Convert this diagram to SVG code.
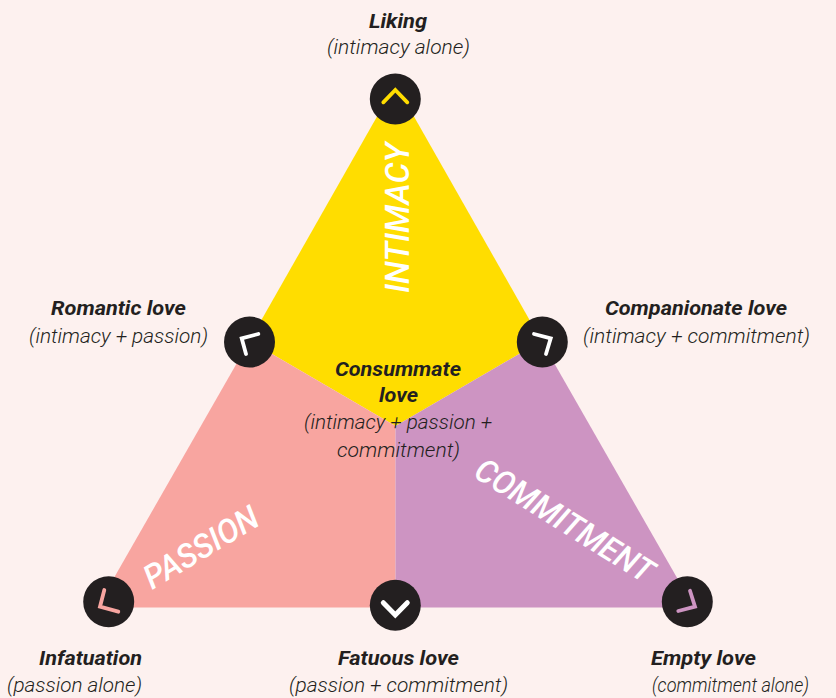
<svg xmlns="http://www.w3.org/2000/svg" width="836" height="698" viewBox="0 0 836 698">
<style>
text{font-family:Roboto,"Liberation Sans",sans-serif;font-style:italic;fill:#231f20}
.b{font-weight:700;font-size:20px}
.l{font-weight:300;font-size:20px}
.w{font-weight:500;font-size:33px;fill:#fff}
.c{fill:#231f20}
.h{fill:none;stroke-width:3.8;stroke-linecap:round;stroke-linejoin:miter}
</style>
<rect width="836" height="698" fill="#fdf1ef"/>
<g id="regions">
<polygon id="intimacy" points="395.5,84 541.5,341 395.5,426 249.5,341" fill="#ffdd00"/>
<polygon id="passion" points="249.5,341 395.5,426 395.5,607.5 97,607.5" fill="#f8a5a0"/>
<polygon id="commitment" points="541.5,341 694,607.5 395.5,607.5 395.5,426" fill="#cd94c2"/>
<text class="w" transform="translate(409.3 293) rotate(-90)" textLength="150" lengthAdjust="spacingAndGlyphs">INTIMACY</text>
<text class="w" transform="translate(152 590) rotate(-31)" textLength="128" lengthAdjust="spacingAndGlyphs">PASSION</text>
<text class="w" transform="translate(472 476) rotate(32)" textLength="204" lengthAdjust="spacingAndGlyphs">COMMITMENT</text>
</g>
<g id="node-liking"><circle class="c" cx="395.3" cy="99" r="25.5"/><polyline class="h" stroke="#ffdd00" points="383.3,102.3 395.3,90 407.3,102.3"/>
<text class="b" x="369" y="28" textLength="58" lengthAdjust="spacingAndGlyphs">Liking</text><text class="l" x="327" y="54" textLength="143" lengthAdjust="spacingAndGlyphs">(intimacy alone)</text></g>
<g id="node-romantic"><circle class="c" cx="249.5" cy="342" r="25.5"/><polyline class="h" stroke="#fff" points="258.3,334 241.7,338.3 246,354"/>
<text class="b" x="51" y="315" textLength="135" lengthAdjust="spacingAndGlyphs">Romantic love</text><text class="l" x="29" y="343" textLength="179" lengthAdjust="spacingAndGlyphs">(intimacy + passion)</text></g>
<g id="node-companionate"><circle class="c" cx="542.3" cy="342" r="25.5"/><polyline class="h" stroke="#fff" points="534,334 550.7,338.3 546,354"/>
<text class="b" x="605" y="315" textLength="182" lengthAdjust="spacingAndGlyphs">Companionate love</text><text class="l" x="583" y="343" textLength="227" lengthAdjust="spacingAndGlyphs">(intimacy + commitment)</text></g>
<g id="node-consummate">
<text class="b" x="335" y="376" textLength="126" lengthAdjust="spacingAndGlyphs">Consummate</text><text class="b" x="379" y="402" textLength="39" lengthAdjust="spacingAndGlyphs">love</text><text class="l" x="304" y="429" textLength="188" lengthAdjust="spacingAndGlyphs">(intimacy + passion +</text><text class="l" x="337" y="457" textLength="123" lengthAdjust="spacingAndGlyphs">commitment)</text></g>
<g id="node-infatuation"><circle class="c" cx="108.7" cy="601.7" r="25.5"/><polyline class="h" stroke="#f8a5a0" points="104.3,590 100,606.7 118.3,611.7"/>
<text class="b" x="39" y="665" textLength="103" lengthAdjust="spacingAndGlyphs">Infatuation</text><text class="l" x="7" y="692" textLength="135" lengthAdjust="spacingAndGlyphs">(passion alone)</text></g>
<g id="node-fatuous"><circle class="c" cx="395.3" cy="605.3" r="25.5"/><polyline class="h" stroke="#fff" style="stroke-width:5" points="383.3,602.7 395.3,615 407.3,602.7"/>
<text class="b" x="338" y="665" textLength="121" lengthAdjust="spacingAndGlyphs">Fatuous love</text><text class="l" x="289" y="692" textLength="219" lengthAdjust="spacingAndGlyphs">(passion + commitment)</text></g>
<g id="node-empty"><circle class="c" cx="687.3" cy="601.7" r="25.5"/><polyline class="h" stroke="#cd94c2" points="690,590.7 695,606.7 678.3,611"/>
<text class="b" x="651" y="665" textLength="105" lengthAdjust="spacingAndGlyphs">Empty love</text><text class="l" x="652" y="692" textLength="157" lengthAdjust="spacingAndGlyphs">(commitment alone)</text></g>
<g id="connectors"/>
</svg>
